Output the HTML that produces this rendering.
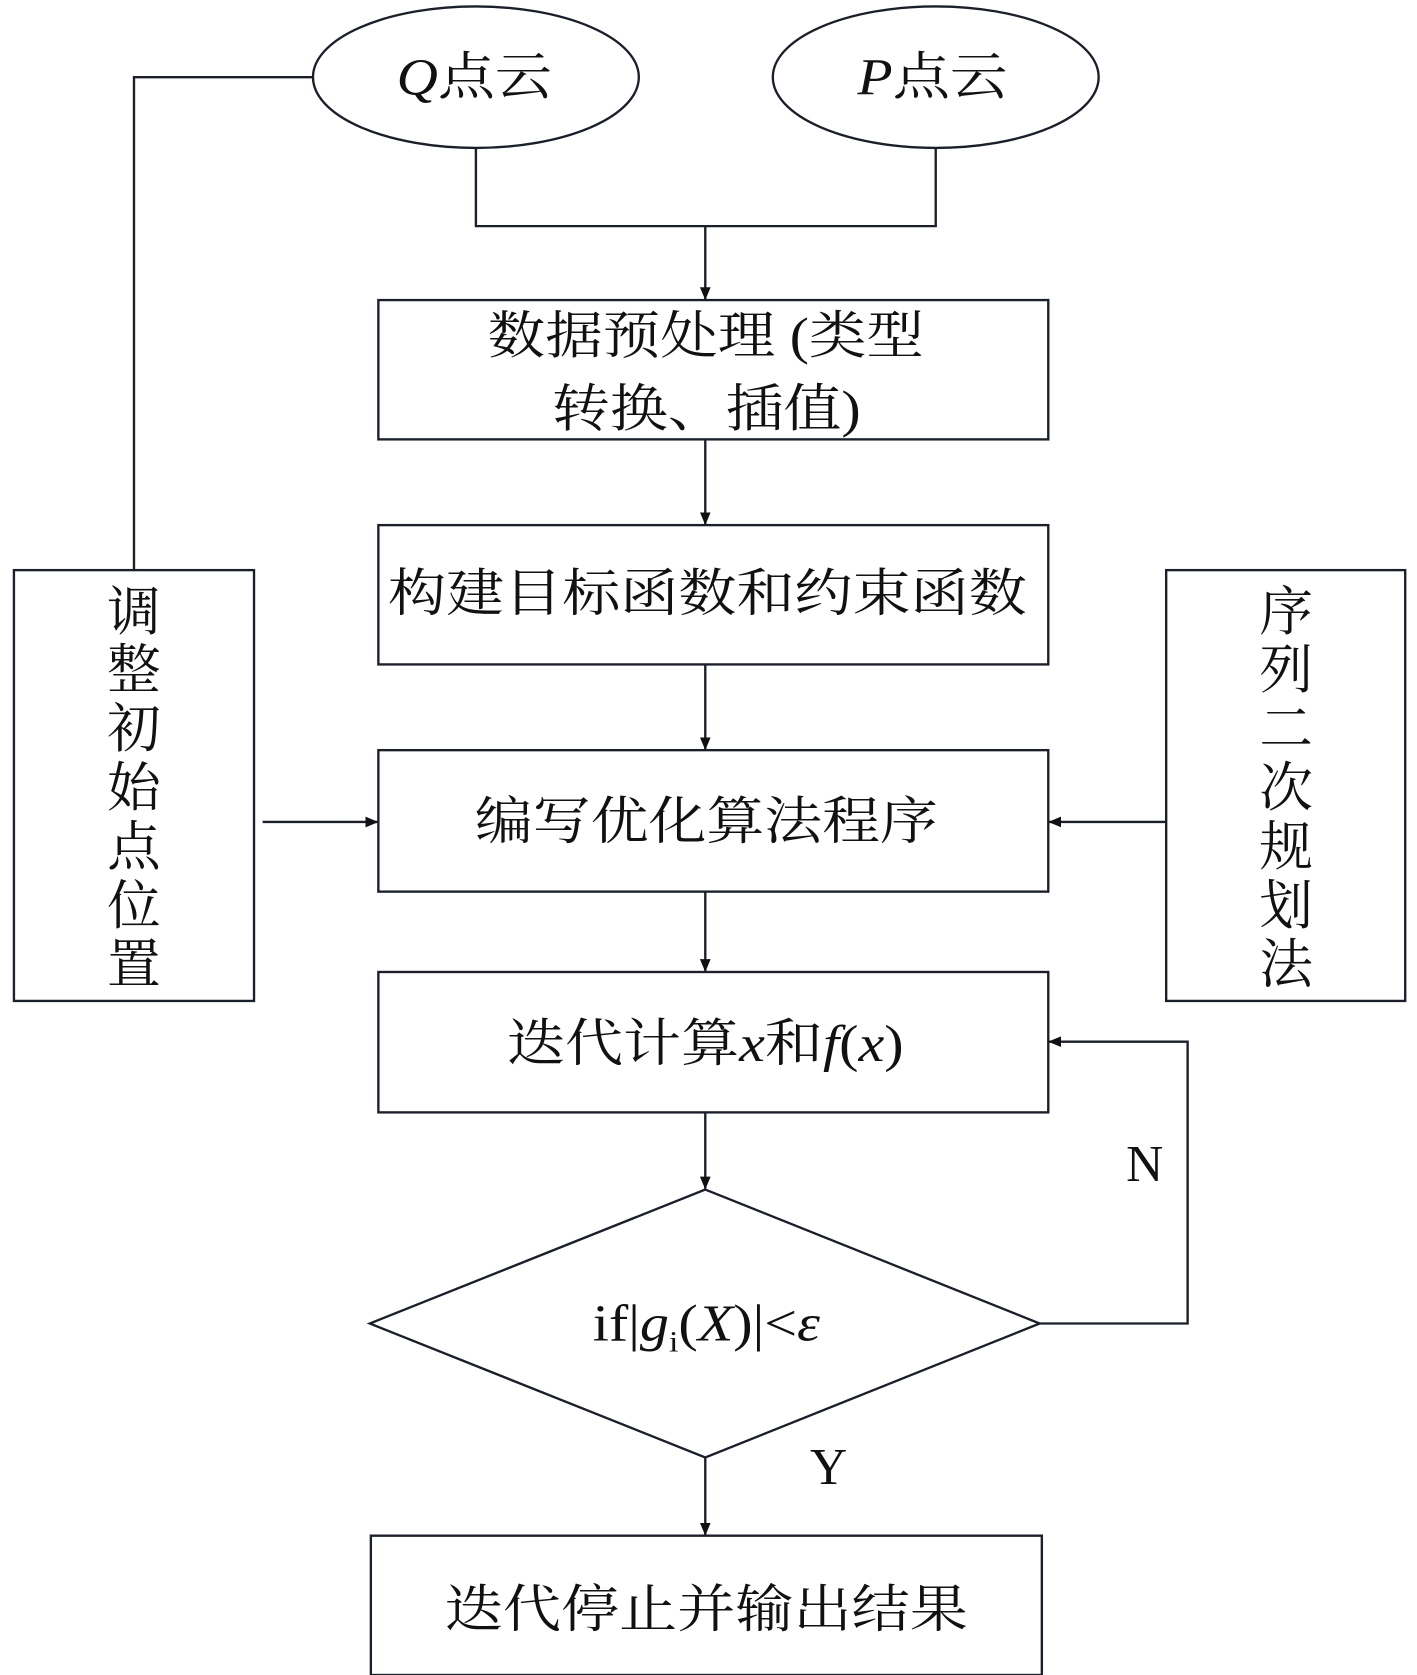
<!DOCTYPE html>
<html><head><meta charset="utf-8"><style>
html,body{margin:0;padding:0;background:#fff;}
svg{display:block;}
text{font-family:"Liberation Serif","Noto Serif CJK SC",serif;fill:#111;}
</style></head><body>
<svg width="1417" height="1675" viewBox="0 0 1322 1563" preserveAspectRatio="none" xmlns="http://www.w3.org/2000/svg">
<defs><marker id="a" markerWidth="12" markerHeight="12" refX="11" refY="6" orient="auto" markerUnits="userSpaceOnUse"><path d="M0,1 L12,6 L0,11 Z" fill="#111"/></marker></defs>
<g stroke="#1a1f2a" stroke-width="2.2" fill="none">
<ellipse cx="444" cy="72" rx="152" ry="66"/>
<ellipse cx="873" cy="72" rx="152" ry="66"/>
<polyline points="292,72 125,72 125,532"/>
<polyline points="444,138 444,211 873,211 873,138"/>
<line x1="658" y1="211" x2="658" y2="279" marker-end="url(#a)"/>
<rect x="353" y="280" width="625" height="130"/>
<line x1="658" y1="410" x2="658" y2="489" marker-end="url(#a)"/>
<rect x="353" y="490" width="625" height="130"/>
<line x1="658" y1="620" x2="658" y2="699" marker-end="url(#a)"/>
<rect x="353" y="700" width="625" height="132"/>
<line x1="658" y1="832" x2="658" y2="906" marker-end="url(#a)"/>
<rect x="353" y="907" width="625" height="131"/>
<line x1="658" y1="1038" x2="658" y2="1109" marker-end="url(#a)"/>
<polygon points="658,1110 970,1235 658,1360 345,1235"/>
<polyline points="970,1235 1108,1235 1108,972 979,972" marker-end="url(#a)"/>
<line x1="658" y1="1360" x2="658" y2="1432" marker-end="url(#a)"/>
<rect x="346" y="1433" width="626" height="130"/>
<rect x="13" y="532" width="224" height="402"/>
<line x1="245" y1="767" x2="352" y2="767" marker-end="url(#a)"/>
<rect x="1088" y="532" width="223" height="402"/>
<line x1="1088" y1="767" x2="979" y2="767" marker-end="url(#a)"/>
</g>
<g font-size="48" lengthAdjust="spacingAndGlyphs">
<text x="370" y="88" textLength="145" lengthAdjust="spacingAndGlyphs"><tspan font-style="italic">Q</tspan>点云</text>
<text x="800" y="88" textLength="140" lengthAdjust="spacingAndGlyphs"><tspan font-style="italic">P</tspan>点云</text>
<text x="455" y="330" textLength="407" lengthAdjust="spacingAndGlyphs">数据预处理 (类型</text>
<text x="515" y="398" textLength="288" lengthAdjust="spacingAndGlyphs">转换、插值)</text>
<text x="362" y="570" textLength="596" lengthAdjust="spacingAndGlyphs">构建目标函数和约束函数</text>
<text x="443" y="783" textLength="432" lengthAdjust="spacingAndGlyphs">编写优化算法程序</text>
<text x="473" y="990" textLength="370" lengthAdjust="spacingAndGlyphs">迭代计算<tspan font-style="italic">x</tspan>和<tspan font-style="italic">f</tspan>(<tspan font-style="italic">x</tspan>)</text>
<text x="553" y="1251" textLength="212" lengthAdjust="spacingAndGlyphs">if|<tspan font-style="italic">g</tspan><tspan font-size="28" dy="10">i</tspan><tspan dy="-10">(</tspan><tspan font-style="italic">X</tspan>)|&lt;<tspan font-style="italic">ε</tspan></text>
<text x="415" y="1518" textLength="488" lengthAdjust="spacingAndGlyphs">迭代停止并输出结果</text>
<text x="1068" y="1102" text-anchor="middle">N</text>
<text x="773" y="1385" text-anchor="middle">Y</text>
</g>
<g font-size="50" text-anchor="middle">
<text x="125" y="588">调</text><text x="125" y="642">整</text><text x="125" y="697">初</text><text x="125" y="752">始</text><text x="125" y="807">点</text><text x="125" y="862">位</text><text x="125" y="917">置</text>
<text x="1200" y="588">序</text><text x="1200" y="642">列</text><text x="1200" y="697">二</text><text x="1200" y="752">次</text><text x="1200" y="807">规</text><text x="1200" y="862">划</text><text x="1200" y="917">法</text>
</g>
</svg>
</body></html>
